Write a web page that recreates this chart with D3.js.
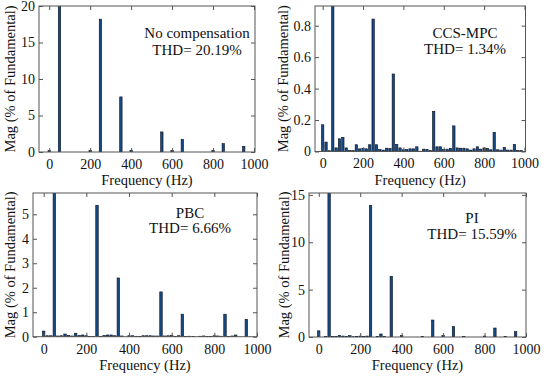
<!DOCTYPE html>
<html>
<head>
<meta charset="utf-8">
<script src="https://cdn.jsdelivr.net/npm/d3@7"></script>
<style>
  body { margin: 0; background: #fff; }
  text { font-family: "Liberation Serif", "Times New Roman", serif; fill: #111; }
</style>
</head>
<body>
<script>
// FFT bins are 50/3 Hz apart, bin 3 is the 50 Hz fundamental
const binHz = 50 / 3;
const freqTicks = [0, 200, 400, 600, 800, 1000];

// magnitudes (% of fundamental), one value per bin, bins 0..59
const magNoComp = [
  0.2, 0, 0, 100, 0, 0, 0, 0, 0, 0,
  0, 0, 0.2, 0, 0, 18.2, 0, 0, 0, 0,
  0, 7.55, 0, 0, 0.2, 0, 0, 0, 0, 0,
  0, 0, 0, 2.75, 0, 0, 0.2, 0, 0, 1.74,
  0, 0, 0, 0, 0, 0, 0, 0, 0.2, 0,
  0, 1.14, 0, 0, 0, 0, 0, 0.78, 0, 0
];
const magCcsMpc = [
  0.17, 0.06, 0.005, 100, 0.023, 0.081, 0.09, 0.023, 0.006, 0.006,
  0.043, 0.017, 0.021, 0.017, 0.043, 0.842, 0.043, 0.013, 0.009, 0.021,
  0.02, 0.493, 0.045, 0.023, 0.011, 0.013, 0.017, 0.017, 0.03, 0.002,
  0.015, 0.013, 0.006, 0.255, 0.03, 0.03, 0.013, 0.015, 0.02, 0.163,
  0.023, 0.021, 0.021, 0.017, 0.009, 0.017, 0.03, 0.015, 0.023, 0.02,
  0.011, 0.122, 0.011, 0.009, 0.026, 0.009, 0.009, 0.045, 0.006, 0.006
];
const magPbc = [
  0.23, 0.04, 0.04, 100, 0.03, 0.04, 0.11, 0.05, 0.03, 0.14,
  0.05, 0.07, 0.04, 0.01, 0.01, 5.37, 0.01, 0.05, 0.07, 0.07,
  0.04, 2.4, 0.03, 0, 0.04, 0.04, 0.01, 0.01, 0.04, 0.04,
  0.04, 0.03, 0.03, 1.83, 0.03, 0.04, 0.05, 0.01, 0.04, 0.92,
  0.01, 0.02, 0.01, 0, 0.02, 0.03, 0.01, 0.01, 0.04, 0.03,
  0.02, 0.92, 0.01, 0.03, 0.07, 0, 0, 0.71, 0, 0
];
const magPi = [
  0.65, 0, 0.07, 100, 0.07, 0.07, 0.17, 0.1, 0.07, 0.14,
  0.03, 0.07, 0.1, 0.07, 0.1, 13.9, 0, 0.07, 0.32, 0.07,
  0, 6.41, 0, 0, 0.14, 0, 0, 0, 0, 0,
  0.07, 0, 0, 1.79, 0, 0, 0.14, 0, 0, 1.09,
  0, 0, 0.07, 0, 0, 0, 0, 0, 0.1, 0,
  0, 0.95, 0, 0, 0.07, 0, 0, 0.56, 0, 0
];

const panels = [
  { id: 'p1', mags: magNoComp, yTicks: [0, 5, 10, 15, 20], yMax: 20,
    box: { l: 39, r: 255, t: 6, b: 152 }, xDom: [-50, 1005], ylab: -24,
    title: 'No compensation', thd: 'THD= 20.19%', tx: 197, ty: 38, gap: 17 },
  { id: 'p2', mags: magCcsMpc, yTicks: [0, 0.2, 0.4, 0.6, 0.8], yMax: 0.925,
    box: { l: 315, r: 525.5, t: 6, b: 151.5 }, xDom: [-38, 1005], ylab: -27,
    title: 'CCS-MPC', thd: 'THD= 1.34%', tx: 465, ty: 38, gap: 16 },
  { id: 'p3', mags: magPbc, yTicks: [0, 1, 2, 3, 4, 5], yMax: 5.87,
    box: { l: 33, r: 257, t: 193, b: 336.7 }, xDom: [-50, 1000], ylab: -18,
    title: 'PBC', thd: 'THD= 6.66%', tx: 190, ty: 218, gap: 15 },
  { id: 'p4', mags: magPi, yTicks: [0, 5, 10, 15], yMax: 15.2,
    box: { l: 309, r: 526, t: 193, b: 337 }, xDom: [-47, 1000], ylab: -20,
    title: 'PI', thd: 'THD= 15.59%', tx: 472, ty: 223, gap: 16 },
];

const svg = d3.select('body').append('svg')
  .attr('width', 550)
  .attr('height', 380);

panels.forEach((p) => {
  const w = p.box.r - p.box.l;
  const h = p.box.b - p.box.t;

  const x = d3.scaleLinear().domain(p.xDom).range([0, w]);
  const y = d3.scaleLinear().domain([0, p.yMax]).range([h, 0]);

  const g = svg.append('g')
    .attr('transform', `translate(${p.box.l},${p.box.t})`);

  g.append('clipPath').attr('id', `clip-${p.id}`)
    .append('rect').attr('width', w).attr('height', h);

  const data = p.mags.map((m, k) => ({ f: k * binHz, m }));
  const barW = (x(binHz) - x(0)) * 0.7;

  // bars
  g.append('g')
    .attr('clip-path', `url(#clip-${p.id})`)
    .selectAll('rect')
    .data(data.filter(d => d.m > 0))
    .enter().append('rect')
    .attr('x', d => x(d.f) - barW / 2)
    .attr('y', d => y(d.m))
    .attr('width', barW)
    .attr('height', d => h - y(d.m))
    .attr('fill', '#164a86')
    .attr('stroke', '#06101e')
    .attr('stroke-width', 0.6);

  // inward ticks on all four sides, labels only bottom / left
  const fmt = d3.format('~g');
  const bottom = g.append('g')
    .attr('transform', `translate(0,${h})`)
    .call(d3.axisBottom(x).tickValues(freqTicks).tickSize(-4).tickPadding(7).tickFormat(fmt));
  const top = g.append('g')
    .call(d3.axisTop(x).tickValues(freqTicks).tickSize(-4).tickFormat(''));
  const left = g.append('g')
    .call(d3.axisLeft(y).tickValues(p.yTicks).tickSize(-4).tickPadding(4).tickFormat(fmt));
  const right = g.append('g')
    .attr('transform', `translate(${w},0)`)
    .call(d3.axisRight(y).tickValues(p.yTicks).tickSize(-4).tickFormat(''));

  [bottom, top, left, right].forEach((a) => {
    a.select('.domain').remove();
    a.selectAll('line').attr('stroke', '#555');
    a.selectAll('text')
      .style('font-family', '"Liberation Serif", serif')
      .style('font-size', '14px')
      .attr('fill', '#111');
  });

  g.append('rect')
    .attr('width', w)
    .attr('height', h)
    .attr('fill', 'none')
    .attr('stroke', '#555')
    .attr('stroke-width', 1);

  // axis labels
  g.append('text')
    .attr('x', w / 2)
    .attr('y', h + 33)
    .attr('text-anchor', 'middle')
    .style('font-size', '14.5px')
    .text('Frequency (Hz)');

  g.append('text')
    .attr('transform', 'rotate(-90)')
    .attr('x', -h / 2)
    .attr('y', p.ylab)
    .attr('text-anchor', 'middle')
    .style('font-size', '14.5px')
    .text('Mag (% of Fundamental)');

  // annotation
  svg.append('text')
    .attr('x', p.tx)
    .attr('y', p.ty)
    .attr('text-anchor', 'middle')
    .style('font-size', '15px')
    .text(p.title);
  svg.append('text')
    .attr('x', p.tx)
    .attr('y', p.ty + p.gap)
    .attr('text-anchor', 'middle')
    .style('font-size', '15px')
    .text(p.thd);
});
</script>
</body>
</html>
